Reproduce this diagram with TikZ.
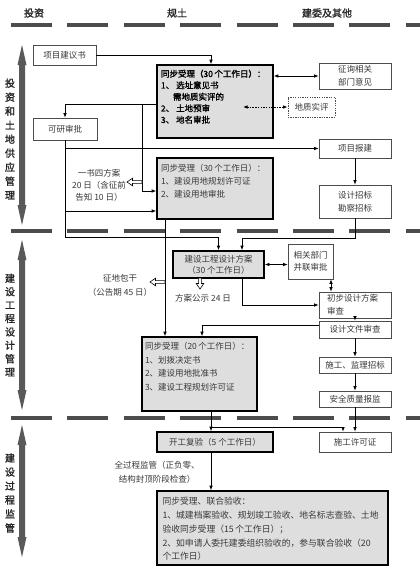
\documentclass[tikz,border=0pt]{standalone}
\usepackage{fontspec}
\setmainfont{Noto Sans CJK SC}
\newfontfamily\bcjk{Noto Sans CJK SC}[FakeBold=1.5]
\usetikzlibrary{arrows.meta,calc}
\newcommand\vbarrow[2]{\fill[black!65] (22,#1) -- (26.5,#1+20) -- (25,#1+20) -- (25,#2-20) -- (26.5,#2-20) -- (22,#2) -- (17.5,#2-20) -- (19,#2-20) -- (19,#1+20) -- (17.5,#1+20) -- cycle;}
\newcommand\nbsp{\nobreak\hspace{1.5pt}\nobreak}
\tikzset{
 txt/.style={font=\fontsize{8.5}{12}\selectfont, text=black!78},
 box/.style={draw=black!70, line width=0.7pt, fill=white, inner sep=0pt, align=center, txt},
 gbox/.style={draw=black, line width=1.6pt, fill=black!13, inner sep=0pt, align=center, txt},
 tip/.tip={Latex[length=4.5pt,width=3.6pt]},
 arr/.style={draw=black, line width=0.7pt, -tip},
 darr/.style={draw=black, line width=0.7pt, tip-tip},
 sepbar/.style={line width=4pt, draw=black!70, dash pattern=on 41pt off 15.4pt},
 side/.style={font=\bcjk\fontsize{10}{14}\selectfont, align=center, inner sep=0pt, text=black!85},
 head/.style={font=\bcjk\fontsize{10}{12}\selectfont, inner sep=0pt, text=black!85},
 lbl/.style={txt, align=center, inner sep=0pt},
 hollowL/.pic={\draw[line width=0.6pt, fill=white] (0,0) -- (5.5,-3.8) -- (5.5,-1.4) -- (15,-1.4) -- (15,1.4) -- (5.5,1.4) -- (5.5,3.8) -- cycle;},
 hollowD/.pic={\draw[line width=0.6pt, fill=white] (0,0) -- (-3.8,-5.5) -- (-1.4,-5.5) -- (-1.4,-11) -- (1.4,-11) -- (1.4,-5.5) -- (3.8,-5.5) -- cycle;},
}
\begin{document}
\begin{tikzpicture}[x=1pt,y=-1pt]
\fill[white] (0,0) rectangle (420,570);
\useasboundingbox (0,0) rectangle (420,570);

% headers
\node[head] (h1) at (34,13) {投资};
\node[head] (h2) at (177,13) {规土};
\node[head] (h3) at (327,13) {建委及其他};

% separators
\draw[sepbar] (11,25) -- (420,25);
\draw[sepbar] (11,231) -- (420,231);
\draw[sepbar] (11,418) -- (420,418);

% side arrows and labels
\vbarrow{45}{225}
\vbarrow{240}{410}
\vbarrow{425}{557}
\node[side] (s1) at (10,139) {投\\资\\和\\土\\地\\供\\应\\管\\理};
\node[side, font=\bcjk\fontsize{10}{13.4}\selectfont] (s2) at (10,325) {建\\设\\工\\程\\设\\计\\管\\理};
\node[side] (s3) at (10,493) {建\\设\\过\\程\\监\\管};

% nodes
\node[box, minimum width=63, minimum height=20] (jyx) at (64.5,55) {项目建议书};
\node[gbox, minimum width=116, minimum height=73] (tb1) at (215,101.5)
 {\parbox[c][63.6pt][t]{108pt}{\raggedright\bcjk\color{black}\fontsize{8.5}{11.5}\selectfont 同步受理（30\nbsp 个工作日）：\\1、 选址意见书\\\hspace*{12pt}需地质实评的\\2、 土地预审\\3、 地名审批}};
\node[box, minimum width=72, minimum height=26, font=\fontsize{8.5}{13}\selectfont] (zx) at (355,76) {征询相关\\部门意见};
\node[box, dash pattern=on 1.3pt off 1.1pt, line width=0.9pt, minimum width=47, minimum height=20] (dz) at (311.5,107) {地质实评};
\node[box, minimum width=64, minimum height=22] (ky) at (65,129) {可研审批};
\node[box, minimum width=72, minimum height=19] (xmbj) at (355,148.5) {项目报建};
\node[gbox, minimum width=116, minimum height=61] (tb2) at (215,188.5)
 {\parbox[c][47.6pt][t]{108pt}{\raggedright\fontsize{8.5}{13}\selectfont 同步受理（30\nbsp 个工作日）：\\1、建设用地规划许可证\\2、建设用地审批}};
\node[box, minimum width=72, minimum height=33, font=\fontsize{8.5}{13}\selectfont] (sjzb) at (355,201.5) {设计招标\\勘察招标};
\node[gbox, minimum width=91, minimum height=27, font=\fontsize{8.5}{11}\selectfont] (gcfa) at (218.5,264.5) {建设工程设计方案\\（30 个工作日）};
\node[box, minimum width=45, minimum height=35] (xgbm) at (310.5,261.5) {相关部门\\并联审批};
\node[box, minimum width=72, minimum height=26, text width=56pt, align=left, font=\fontsize{8.5}{13}\selectfont] (cbsj) at (355,305) {初步设计方案\\审查};
\node[box, minimum width=72, minimum height=17] (sjwj) at (355,329.5) {设计文件审查};
\node[gbox, minimum width=115, minimum height=74] (tb3) at (199.5,374)
 {\parbox[c][62.6pt][t]{109pt}{\raggedright\fontsize{8.5}{13.5}\selectfont 同步受理（20\nbsp 个工作日）：\\1、划拨决定书\\2、建设用地批准书\\3、建设工程规划许可证}};
\node[box, minimum width=72, minimum height=16] (sgjl) at (355,365) {施工、监理招标};
\node[box, minimum width=72, minimum height=16] (aqzl) at (355,399) {安全质量报监};
\node[gbox, minimum width=116, minimum height=20] (kgfy) at (215,442) {开工复验（5 个工作日）};
\node[box, minimum width=72, minimum height=20] (sgxk) at (355,442) {施工许可证};
\node[gbox, minimum width=231, minimum height=74] (lhys) at (272.5,528)
 {\parbox[c][61pt][t]{220pt}{\raggedright\fontsize{8.8}{13.7}\selectfont 同步受理、联合验收：\\1、城建档案验收、规划竣工验收、地名标志查验、土地\\验收同步受理（15\nbsp 个工作日）；\\2、如申请人委托建委组织验收的，参与联合验收（20\\个工作日）}};

% free labels
\node[lbl] (yszfa) at (99,185) {一书四方案\\20 日（含征前\\告知 10 日）};
\node[lbl, font=\fontsize{8.5}{14}\selectfont] (zdbg) at (120,285) {征地包干\\（公告期 45 日）};
\node[lbl] (fags) at (203,298) {方案公示 24 日};
\node[lbl, font=\fontsize{8.5}{14}\selectfont] (qgc) at (157,472) {全过程监管（正负零、\\结构封顶阶段检查）};

% helper coordinates
\coordinate (y104) at (0,104);
\coordinate (j142) at (142,104);
\coordinate (y191) at (0,191);
\coordinate (y211) at (0,211);
\coordinate (k1) at (218.5,237);
\coordinate (k2) at (242,238);
\coordinate (v165) at (165,0);
\coordinate (x202) at (202,0);
\coordinate (y325) at (0,325);
\coordinate (x211) at (211,0);
\coordinate (b427) at (211,427);
\coordinate (x343) at (343,0);
\coordinate (dzend) at (243,107);
\coordinate (x331) at (331,0);

% connectors
\draw[arr] (jyx.east) -| ([xshift=-4pt]tb1.north);
\draw[darr] (tb1.east |- zx.west) -- (zx.west);
\draw[darr, dash pattern=on 1.5pt off 1.2pt, line width=0.9pt] (dzend) -- (dz.west);
\draw[arr] (tb1.west |- y104) -| (ky.north);
\draw[arr] (j142) |- (tb2.west |- y191);
\pic at (127,182) {hollowL};
\draw[arr] (ky.south) |- (xmbj.west);
\draw[arr] (ky.south) |- (tb2.west |- y211);
\draw[arr] (ky.south) |- (k1) -- (gcfa.north);
\draw[arr] (xmbj.south) -- (sjzb.north);
\draw[arr] (sjzb.south) |- (k2) -- (k2 |- gcfa.north);
\draw[arr] (tb2.south -| v165) -- (tb3.north -| v165);
\pic at (150,282) {hollowL};
\draw[darr] (gcfa.east) -- (xgbm.west |- gcfa.east);
\draw[darr] (xgbm.south -| x331) -- (cbsj.north -| x331);
\pic at (200,289) {hollowD};
\draw[arr] (gcfa.south -| k2) |- (cbsj.west);
\draw[arr] (cbsj.south) -- (sjwj.north);
\draw[arr] (sjwj.west |- y325) -| (tb3.north -| x202);
\draw[arr] (sjwj.south) -- (sgjl.north);
\draw[arr] (sgjl.south) -- (aqzl.north);
\draw[arr] (aqzl.south) -- (sgxk.north);
\draw[arr] (tb3.south -| x211) -- (kgfy.north -| x211);
\draw[arr] (b427) -| (sgxk.north -| x343);
\draw[arr] (kgfy.south -| x211) -- (lhys.north -| x211);
\end{tikzpicture}
\end{document}
